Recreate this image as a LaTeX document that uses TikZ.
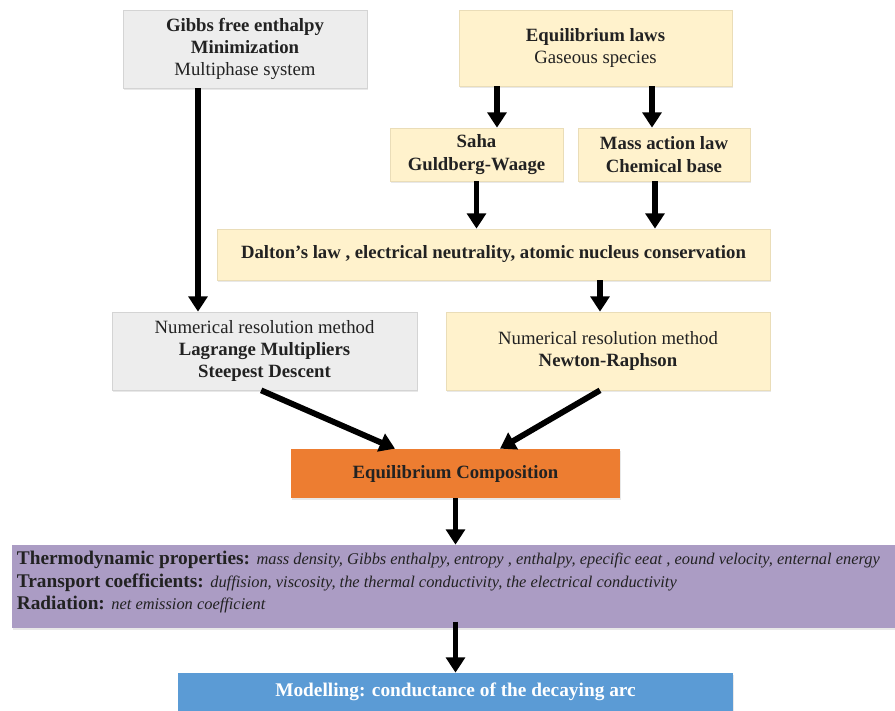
\documentclass[tikz,border=0pt]{standalone}
\usepackage{fontspec}
\setmainfont{Liberation Serif}
\usepackage{tikz}
\usetikzlibrary{arrows.meta,shadows}

\definecolor{boxgray}{HTML}{EDEDED}
\definecolor{boxyellow}{HTML}{FFF2CC}
\definecolor{edgegray}{HTML}{D4D4D4}
\definecolor{edgeyellow}{HTML}{EADDB8}
\definecolor{compoorange}{HTML}{ED7D31}
\definecolor{propspurple}{HTML}{AB9CC4}
\definecolor{modelblue}{HTML}{5B9BD5}
\definecolor{inkdark}{HTML}{222222}

\tikzset{
  box/.style={rectangle, draw, line width=0.6pt, align=center, inner sep=0pt,
    text=inkdark, font=\fontsize{16}{19}\selectfont,
    drop shadow={opacity=0.18, shadow xshift=1.2pt, shadow yshift=-1.5pt}},
  graybox/.style={box, fill=boxgray, draw=edgegray},
  yellowbox/.style={box, fill=boxyellow, draw=edgeyellow},
  arr/.style={-{Triangle[width=16pt,length=13pt]}, line width=5pt, black}
}

\begin{document}
\begin{tikzpicture}[x=0.03cm, y=-0.03cm]
\clip (0,0) rectangle (895,711);
\fill[white] (0,0) rectangle (895,711);

% left branch
\node[graybox, minimum width=7.32cm, minimum height=2.34cm] (gibbs) at (245,49)
  {\textbf{Gibbs free enthalpy}\\ \textbf{Minimization}\\ Multiphase system};
\node[graybox, minimum width=9.15cm, minimum height=2.34cm] (numl) at (264.5,351)
  {Numerical resolution method\\ \textbf{Lagrange Multipliers}\\ \textbf{Steepest Descent}};

% right branch
\node[yellowbox, minimum width=8.19cm, minimum height=2.28cm] (eqlaws) at (595.5,48)
  {\textbf{Equilibrium laws}\\ Gaseous species};
\node[yellowbox, minimum width=5.19cm, minimum height=1.59cm] (saha) at (476.5,154.5)
  {\textbf{Saha}\\ \textbf{Guldberg-Waage}};
\node[yellowbox, minimum width=5.16cm, minimum height=1.59cm] (mass) at (664,154.5)
  {\textbf{Mass action law}\\ \textbf{Chemical base}};
\node[yellowbox, minimum width=16.59cm, minimum height=1.53cm] (dalton) at (493.5,254.5)
  {\textbf{Dalton’s law , electrical neutrality, atomic nucleus conservation}};
\node[yellowbox, minimum width=9.72cm, minimum height=2.34cm] (numr) at (608,351)
  {Numerical resolution method\\ \textbf{Newton-Raphson}};

% result
\node[box, draw=none, fill=compoorange, minimum width=9.87cm, minimum height=1.47cm] (eqcomp) at (455.5,473.5)
  {\textbf{Equilibrium Composition}};
\node[box, draw=none, fill=propspurple, minimum width=26.79cm, minimum height=2.49cm] (props) at (458.5,586.5) {};
\node[anchor=north west, align=left, inner sep=0pt, text=inkdark,
  font=\fontsize{16.5}{19}\selectfont] (propstext) at ([xshift=0.15cm, yshift=-0.2cm]props.north west)
  {\textbf{Thermodynamic properties:} {\fontsize{14}{19}\selectfont\itshape mass density, Gibbs enthalpy, entropy , enthalpy, epecific eeat , eound velocity, enternal energy}\\
   \textbf{Transport coefficients:} {\fontsize{14}{19}\selectfont\itshape duffision, viscosity, the thermal conductivity, the electrical conductivity}\\
   \textbf{Radiation:} {\fontsize{14}{19}\selectfont\itshape net emission coefficient}};
\node[box, draw=none, fill=modelblue, text=white, minimum width=16.65cm, minimum height=1.14cm,
  font=\fontsize{16.5}{19}\selectfont] (model) at (455.5,692)
  {\textbf{Modelling: conductance of the decaying arc}};

% arrows
\draw[arr] ([xshift=-1.41cm]gibbs.south) coordinate (g1) -- (g1 |- numl.north);
\draw[arr] ([xshift=-2.955cm]eqlaws.south) coordinate (e1) -- (e1 |- saha.north);
\draw[arr] ([xshift=1.695cm]eqlaws.south) coordinate (e2) -- (e2 |- mass.north);
\draw[arr] (saha.south) -- (saha.south |- dalton.north);
\draw[arr] ([xshift=-0.27cm]mass.south) coordinate (m1) -- (m1 |- dalton.north);
\draw[arr] ([xshift=-0.24cm]numr.north |- dalton.south) coordinate (d1) -- (d1 |- numr.north);
\draw[arr] ([xshift=-0.1cm]numl.south) -- ([xshift=-1.815cm]eqcomp.north);
\draw[arr] ([xshift=-0.24cm]numr.south) -- ([xshift=1.335cm]eqcomp.north);
\draw[arr] (eqcomp.south) -- (eqcomp.south |- props.north);
\draw[arr] ([yshift=0.2cm]props.south -| eqcomp.south) coordinate (p1) -- (p1 |- model.north);
\end{tikzpicture}
\end{document}
